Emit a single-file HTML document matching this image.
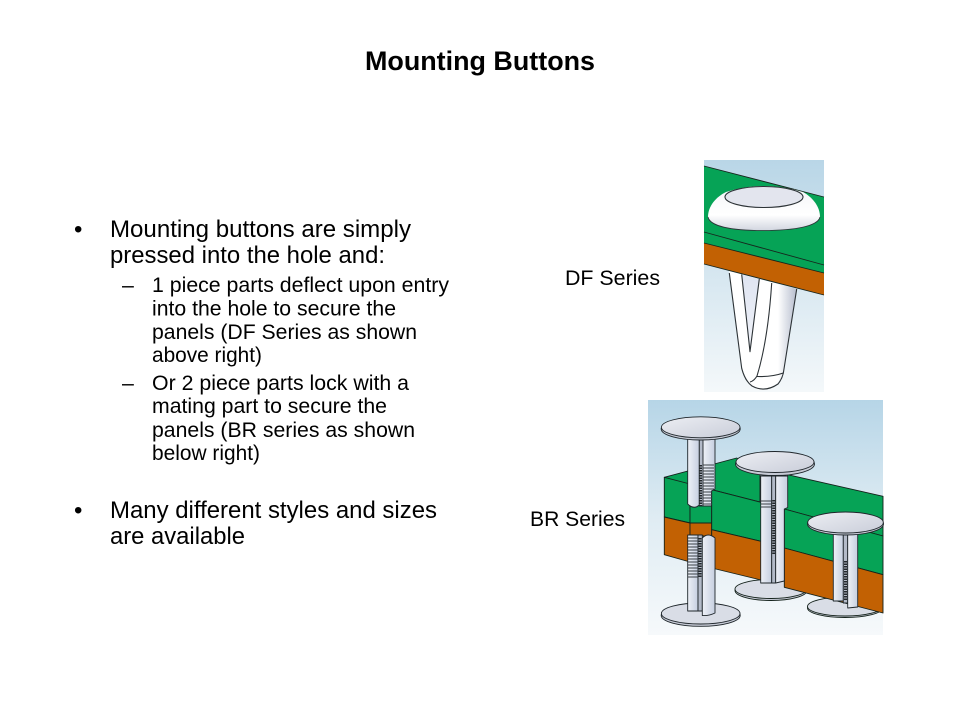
<!DOCTYPE html>
<html><head><meta charset="utf-8"><style>html,body{margin:0;padding:0;background:#fff;width:960px;height:720px;overflow:hidden}svg{display:block}text{font-family:"Liberation Sans",Arial,sans-serif;fill:#000}.a{font-size:24px}.b{font-size:21.33px}</style></head><body>
<svg width="960" height="720" viewBox="0 0 960 720" xmlns="http://www.w3.org/2000/svg">
<defs>
<linearGradient id="g1" x1="0" y1="0" x2="0" y2="1"><stop offset="0" stop-color="#b9d6e7"/><stop offset="1" stop-color="#f4f8fa"/></linearGradient>
<linearGradient id="g2" x1="0" y1="0" x2="0" y2="1"><stop offset="0" stop-color="#b6d5e7"/><stop offset=".5" stop-color="#dfecf3"/><stop offset="1" stop-color="#f6f9fb"/></linearGradient>
<linearGradient id="dome" x1="0" y1="0" x2="0" y2="1"><stop offset="0" stop-color="#f4f5f9"/><stop offset=".65" stop-color="#fff"/><stop offset="1" stop-color="#d2d6e0"/></linearGradient>
<linearGradient id="stem" x1="0" y1="0" x2="1" y2="0"><stop offset="0" stop-color="#fff"/><stop offset=".72" stop-color="#fff"/><stop offset="1" stop-color="#b4bccd"/></linearGradient>
<linearGradient id="vslot" x1="0" y1="0" x2="0" y2="1"><stop offset="0" stop-color="#dfe5f2"/><stop offset="1" stop-color="#f1f3f9"/></linearGradient>
<linearGradient id="disc" x1="0" y1="0" x2="1" y2="1"><stop offset="0" stop-color="#eceef3"/><stop offset="1" stop-color="#c9cdd9"/></linearGradient>
<linearGradient id="shaft" x1="0" y1="0" x2="1" y2="0"><stop offset="0" stop-color="#eef1f7"/><stop offset="1" stop-color="#c6cfe0"/></linearGradient>
</defs>

<text x="480" y="70" text-anchor="middle" font-size="26.67" font-weight="700" textLength="230" lengthAdjust="spacingAndGlyphs">Mounting Buttons</text>

<text class="a" x="74" y="237">•</text>
<text class="a" x="110" y="237" textLength="301" lengthAdjust="spacingAndGlyphs">Mounting buttons are simply</text>
<text class="a" x="110" y="263" textLength="275" lengthAdjust="spacingAndGlyphs">pressed into the hole and:</text>
<text class="b" x="122" y="292">–</text>
<text class="b" x="152" y="292" textLength="297" lengthAdjust="spacingAndGlyphs">1 piece parts deflect upon entry</text>
<text class="b" x="152" y="315.500" textLength="244" lengthAdjust="spacingAndGlyphs">into the hole to secure the</text>
<text class="b" x="152" y="339" textLength="265" lengthAdjust="spacingAndGlyphs">panels (DF Series as shown</text>
<text class="b" x="152" y="362" textLength="110" lengthAdjust="spacingAndGlyphs">above right)</text>
<text class="b" x="122" y="390">–</text>
<text class="b" x="152" y="390" textLength="257" lengthAdjust="spacingAndGlyphs">Or 2 piece parts lock with a</text>
<text class="b" x="152" y="413" textLength="235" lengthAdjust="spacingAndGlyphs">mating part to secure the</text>
<text class="b" x="152" y="437" textLength="263" lengthAdjust="spacingAndGlyphs">panels (BR series as shown</text>
<text class="b" x="152" y="460" textLength="108" lengthAdjust="spacingAndGlyphs">below right)</text>
<text class="a" x="74" y="518">•</text>
<text class="a" x="110" y="518" textLength="327" lengthAdjust="spacingAndGlyphs">Many different styles and sizes</text>
<text class="a" x="110" y="544" textLength="135" lengthAdjust="spacingAndGlyphs">are available</text>

<text class="b" x="565" y="285" textLength="95" lengthAdjust="spacingAndGlyphs">DF Series</text>
<text class="b" x="530" y="526" textLength="95" lengthAdjust="spacingAndGlyphs">BR Series</text>

<!-- DF image -->
<rect x="704" y="160" width="120" height="232" fill="url(#g1)"/>
<path d="M729,271 L797,289 L783.300,373.300 Q780,382 772,387 Q765,391 757,389 Q748,385 742,368.300 Z" fill="url(#stem)"/>
<polygon points="704,166 824,197 824,273 704,243" fill="#06a356"/>
<polygon points="704,243 824,273 824,295 704,264" fill="#c26103"/>
<g stroke="#17251d" stroke-width=".9" fill="none">
<line x1="704" y1="166" x2="824" y2="197"/>
<line x1="704" y1="232" x2="824" y2="265"/>
<line x1="704" y1="243" x2="824" y2="273"/>
<line x1="704" y1="264" x2="824" y2="295"/>
</g>
<g stroke="#2c3236" stroke-width="1.100" stroke-linejoin="round" fill="none">
<path d="M729.300,273 L741.700,368.300 Q745,381 752,386 Q765,393 778,384 Q782,379 783.300,373.300 L796.700,289"/>
<path d="M741.700,274.500 L750,351.700 L759.300,279 Z" fill="url(#vslot)" stroke="none"/>
<path d="M741.700,274.500 L750,351.700 L759.300,279"/>
<path d="M771.700,283 Q768,340 757,376 Q754,381 750,382"/>
<path d="M757,376.500 Q772,377 783.300,373"/>
<path d="M708,217 C708,206 716,197 726,192 Q763,180 803,192 C812,197 820,206 820,217 C818,226 796,230.500 763,230.500 C730,230.500 710,226 708,217 Z" fill="url(#dome)" stroke="none"/>
<path d="M708,217 C710,226 730,230.500 763,230.500 C796,230.500 818,226 820,217" stroke-width=".8"/>
<ellipse cx="764" cy="197" rx="39" ry="10.500" fill="#e3e5ee"/>
</g>

<!-- BR image -->
<rect x="648" y="400" width="235" height="235" fill="url(#g2)"/>

<g stroke="#14221b" stroke-width=".9" stroke-linejoin="round">
<!-- lower discs behind slabs -->
<ellipse cx="771" cy="590.500" rx="36" ry="10" fill="#c6cad5"/>
<ellipse cx="771" cy="589" rx="36" ry="9.500" fill="#d9dde6"/>
<ellipse cx="845" cy="608" rx="37.500" ry="9.500" fill="#c6cad5"/>
<ellipse cx="845" cy="606.500" rx="37.500" ry="9.500" fill="#d9dde6"/>

<!-- rear green -->
<polygon points="664.300,477.300 736.700,458 760,470 760,502 711.700,489.700 687.700,485" fill="#06a356"/>
<polygon points="787.700,474.700 883,496.300 883,536 784.300,509" fill="#06a356"/>

<!-- left block -->
<polygon points="664.300,477.300 690,484 690,523 664.300,517" fill="#06a356"/>
<polygon points="664.300,517 690,523 690,562 664.300,554.700" fill="#c26103"/>
<!-- centre neck -->
<polygon points="690,505 711.700,505 711.700,523 690,523" fill="#06a356"/>
<polygon points="690,523 711.700,523 711.700,536 690,536" fill="#c26103"/>
<!-- front centre -->
<polygon points="711.700,489.700 761,502.300 761,541.300 711.700,529.700" fill="#06a356"/>
<polygon points="711.700,529.700 761,541.300 761,580 711.700,568" fill="#c26103"/>
<!-- front right -->
<polygon points="784.300,509 883,536 883,574.700 784.300,548" fill="#06a356"/>
<polygon points="784.300,548 883,574.700 883,613 784.300,587.300" fill="#c26103"/>
</g>

<!-- bottom-left disc (shaft stands on it) -->
<g stroke="#1f262b" stroke-width=".9">
<ellipse cx="700.700" cy="615.500" rx="39.500" ry="10.800" fill="#c6cad5"/>
<ellipse cx="700.700" cy="613.500" rx="39.300" ry="10.500" fill="#d9dde6"/>
</g>

<g stroke="#1f262b" stroke-width=".9" stroke-linejoin="round">
<!-- left top shaft -->
<path d="M687.700,436 H699.300 V505 Q694,510 687.700,504 Z" fill="url(#shaft)"/>
<rect x="699.300" y="436" width="4" height="70" fill="#b3bac8"/>
<path d="M703,436 H715 V489 L711.500,491 V506 H703 Z" fill="url(#shaft)"/>
<!-- left lower shaft -->
<path d="M687.700,535 H698 V611 H687.700 Z" fill="url(#shaft)"/>
<rect x="698" y="535" width="4.300" height="76" fill="#b3bac8"/>
<path d="M702.300,538 Q708,532 715,538 V613 Q709,616 702.300,615.500 Z" fill="url(#shaft)"/>
<!-- middle shaft -->
<path d="M760.700,476 H771.700 V583 H760.700 Z" fill="url(#shaft)"/>
<rect x="771.700" y="476" width="4" height="107" fill="#b3bac8"/>
<path d="M775.700,476 H787.700 V507.500 L784.300,509 V581 L775.700,583 Z" fill="url(#shaft)"/>
<!-- right shaft -->
<path d="M833.300,534 H843.300 V601 H833.300 Z" fill="url(#shaft)"/>
<rect x="843.300" y="534" width="4.400" height="69" fill="#b3bac8"/>
<path d="M847.700,534 H857.700 V607 L847.700,608 Z" fill="url(#shaft)"/>
</g>

<!-- threads -->
<g stroke="#3a4046" stroke-width=".9" fill="none">
<path d="M703,465h11M703,468h11M703,471h11M703,474h11M703,477h11M703,480h11M703,483h11M703,486h11M703,489h11M703,492h9M703,495h9M703,498h9M703,501h9M703,504h9"/>
<path d="M688,538h10M688,541h10M688,544h10M688,547h10M688,550h10M688,553h10M688,556h10M688,559h10M688,562h10M688,565h10M688,568h10M688,571h10M688,574h10M688,577h10"/>
<path d="M760.700,501h11M760.700,504h11M760.700,507h11"/>
</g>
<g stroke="#23282c" stroke-width="3" fill="none" stroke-dasharray="1.500 1">
<path d="M845.500,561v40"/>
<path d="M773.700,500v55"/>
<path d="M700.500,465v41"/>
<path d="M700,538v40"/>
</g>

<!-- top discs -->
<g stroke="#1f262b" stroke-width=".9">
<ellipse cx="700.700" cy="429" rx="39.500" ry="11" fill="#c6cad5"/>
<ellipse cx="700.700" cy="427.300" rx="39.300" ry="10.500" fill="url(#disc)"/>
<ellipse cx="775" cy="464" rx="39.500" ry="11.500" fill="#c6cad5"/>
<ellipse cx="775" cy="462" rx="39" ry="10.500" fill="url(#disc)"/>
<ellipse cx="845.500" cy="524" rx="38" ry="11" fill="#c6cad5"/>
<ellipse cx="845.500" cy="522.500" rx="37.800" ry="10.500" fill="url(#disc)"/>
</g>
</svg>
</body></html>
